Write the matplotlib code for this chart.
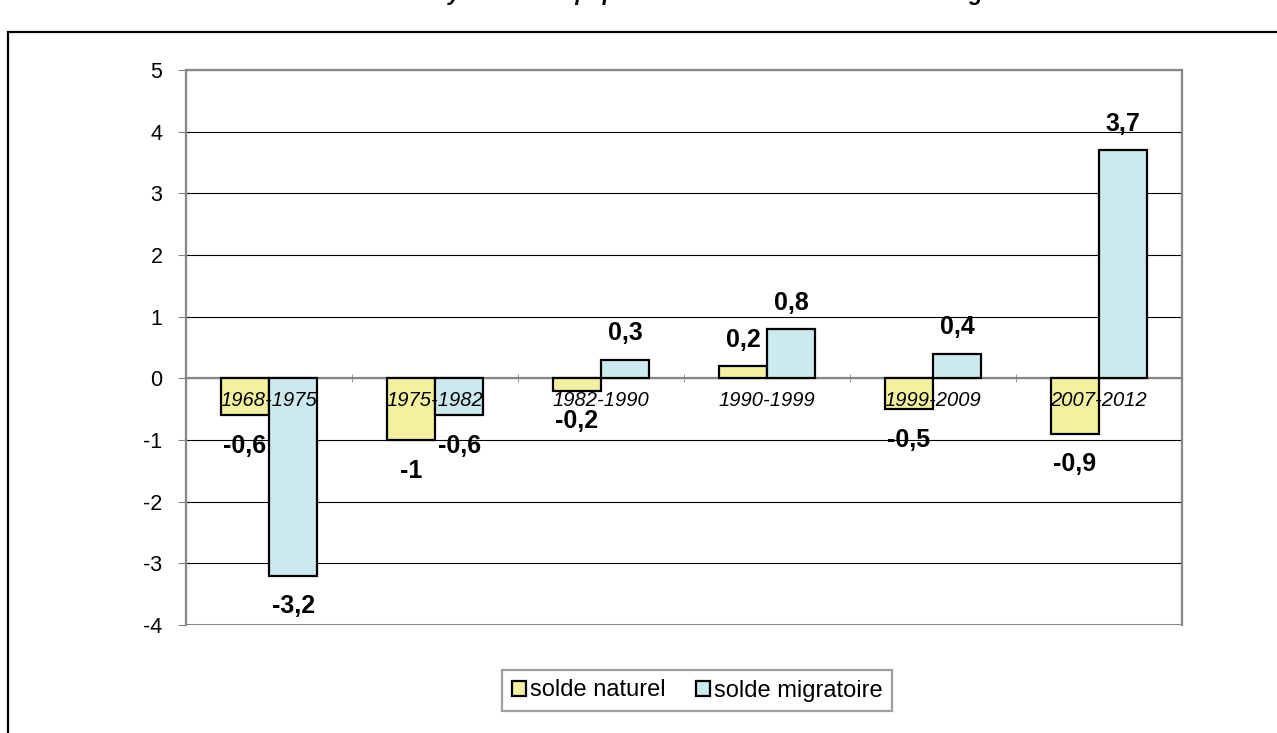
import matplotlib
matplotlib.use("Agg")
import matplotlib.pyplot as plt
import numpy as np
from matplotlib.patches import Rectangle

plt.rcParams["font.family"] = ["Liberation Sans", "DejaVu Sans"]

periods = ["1968-1975", "1975-1982", "1982-1990", "1990-1999", "1999-2009", "2007-2012"]
solde_naturel = [-0.6, -1.0, -0.2, 0.2, -0.5, -0.9]
solde_migratoire = [-3.2, -0.6, 0.3, 0.8, 0.4, 3.7]
series_names = ["solde naturel", "solde migratoire"]
title = "Variation annuelle moyenne de la population : solde naturel et solde migratoire"

yellow = "#f3f0a0"
blue = "#cde9f0"
frame_gray = "#868686"


def fr(v: float) -> str:
    return f"{v:g}".replace(".", ",")


fig = plt.figure(figsize=(12.77, 7.33), dpi=100)
ax = fig.add_axes([186 / 1277, 1 - 625 / 733, (1182 - 186) / 1277, (625 - 70) / 733])

x = np.arange(len(periods))
width = 0.29
bars_n = ax.bar(x - width / 2, solde_naturel, width, color=yellow, edgecolor="black",
                linewidth=1.6, label=series_names[0], zorder=3)
bars_m = ax.bar(x + width / 2, solde_migratoire, width, color=blue, edgecolor="black",
                linewidth=1.6, label=series_names[1], zorder=3)

ax.set_xlim(-0.5, len(periods) - 0.5)
ax.set_ylim(-4, 5)
ax.set_yticks(np.arange(-4, 6))
ax.set_yticklabels([str(v) for v in range(-4, 6)], fontsize=15.5)
ax.yaxis.grid(True, color="black", linewidth=0.8)
ax.set_axisbelow(True)

# category axis crosses at zero, like the spreadsheet original
ax.spines["bottom"].set_position(("data", 0))
for side in ["left", "right", "top", "bottom"]:
    ax.spines[side].set_color(frame_gray)
    ax.spines[side].set_linewidth(1.6)
ax.axhline(-4, color=frame_gray, linewidth=2.2, zorder=2)

ax.set_xticks(x)
ax.set_xticklabels(periods, fontsize=14.5, style="italic")
ax.set_xticks(np.arange(len(periods) + 1) - 0.5, minor=True)
ax.tick_params(axis="x", which="major", length=0, pad=9)
ax.tick_params(axis="x", which="minor", length=6, direction="inout", color=frame_gray)
ax.tick_params(axis="y", length=6, direction="out", color=frame_gray, pad=11)
# period labels are drawn over the bars
ax.xaxis.set_zorder(4)

for bars, values in [(bars_n, solde_naturel), (bars_m, solde_migratoire)]:
    for bar, v in zip(bars, values):
        cx = bar.get_x() + bar.get_width() / 2
        offset = 14 if v > 0 else -27
        ax.annotate(fr(v), xy=(cx, v), xytext=(0, offset), textcoords="offset points",
                    ha="center", va="baseline", fontsize=18, fontweight="bold", zorder=5)

leg = fig.legend(handles=[bars_n, bars_m], labels=series_names, loc="center",
                 bbox_to_anchor=(697 / 1277, 1 - 690.5 / 733), ncol=2, fontsize=17,
                 frameon=True, fancybox=False, handlelength=0.6, handleheight=0.6,
                 handletextpad=0.15, columnspacing=1.3, borderpad=0.4)
leg.get_frame().set_edgecolor(frame_gray)
leg.get_frame().set_linewidth(1.6)

# outer chart border, running past the right and bottom edges
fig.patches.append(Rectangle((8 / 1277, -0.05), 1.2, 1 - 32 / 733 + 0.05,
                             transform=fig.transFigure, fill=False, edgecolor="black",
                             linewidth=1.6))

# title sits mostly above the picture, only its descenders show
fig.text(635 / 1277, 1 + 0.5 / 733, title, ha="center", va="baseline", fontsize=16,
         fontweight="bold", style="italic")

fig.savefig("out.png", dpi=100)
